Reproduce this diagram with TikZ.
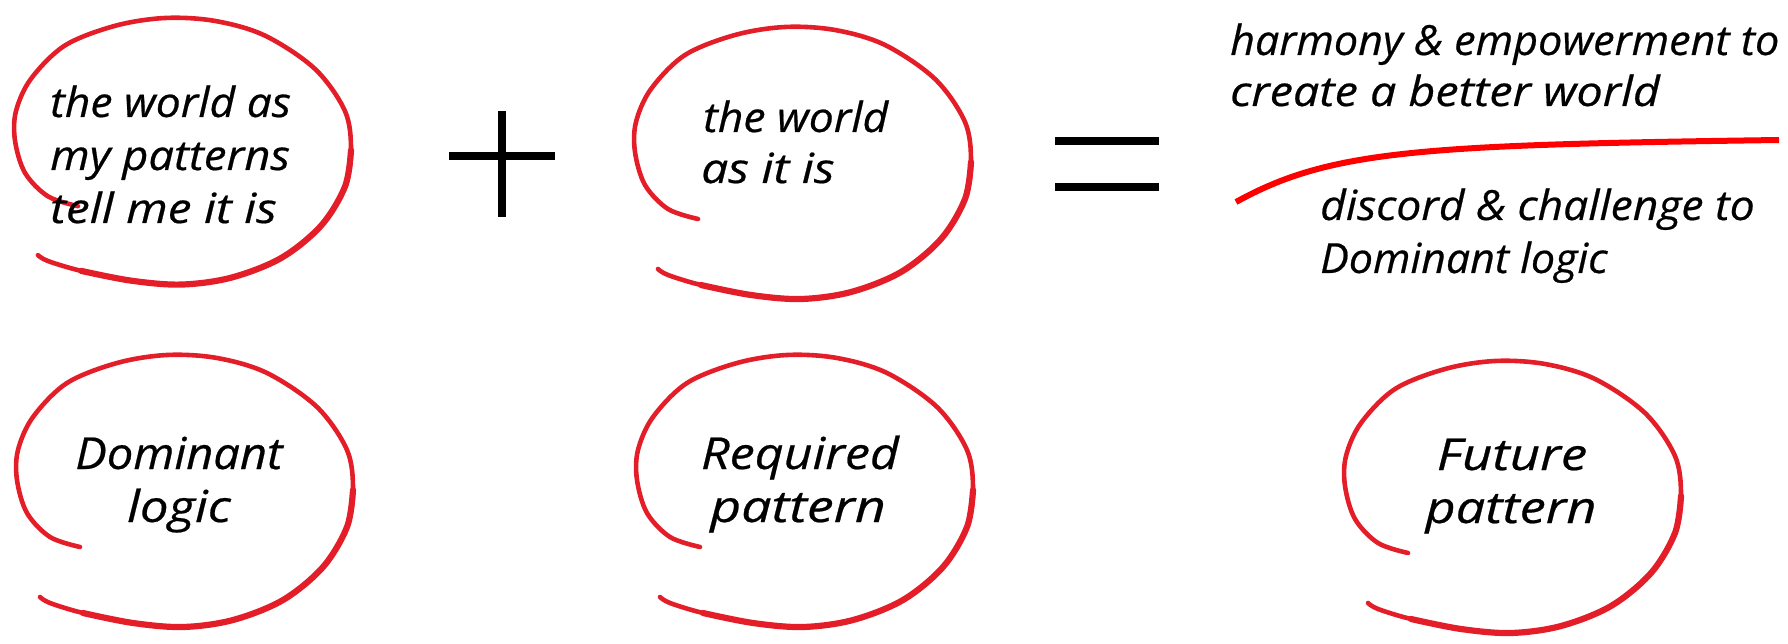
\documentclass[tikz,border=0pt]{standalone}
\usepackage{fontspec}
\setmainfont{Open Sans}[ItalicFeatures={FakeStretch=1.07, FakeBold=0.5}]
\definecolor{penred}{RGB}{228,30,40}
\definecolor{linered}{RGB}{255,0,0}
\newcommand{\hsq}[2]{\scalebox{#1}[1]{#2}}
\tikzset{
  handtxt/.style={inner sep=0pt, anchor=base west, font=\itshape\fontsize{41.5}{50}\selectfont},
  bigtxt/.style={inner sep=0pt, anchor=base, font=\itshape\fontsize{44}{54}\selectfont},
  sym/.style={line width=8pt, black},
  pics/pencilring/.style={code={
    \draw[penred, line width=4.6pt, line cap=round] plot[smooth, tension=0.55] coordinates {
      (23,242) (33,248) (66,258) (116,268) (166,272) (216,265) (266,245) (306,212)
      (330,172) (336,135) (330,95) (300,52) (250,18) (200,3) (150,0) (100,8) (50,28)
      (16,62) (1,95) (0,125) (10,158) (33,182) (63,192)};
    \draw[penred, line width=6.2pt, line cap=round] plot[smooth, tension=0.55] coordinates {
      (66,258) (116,268) (166,272) (216,265) (266,245) (306,212) (330,172) (336,135)};
  }}
}
\begin{document}
\begin{tikzpicture}[x=1pt, y=-1pt]
\useasboundingbox (0,0) rectangle (1788,644);
% circles
\pic (ringA) at (15,18) [yscale=0.98] {pencilring};
\pic (ringB) at (635,27) {pencilring};
\pic (ringC) at (17,355) {pencilring};
\pic (ringD) at (637,355) {pencilring};
\pic (ringE) at (1345,361) {pencilring};
% top-left text
\node[handtxt] (a1) at (50,117) {the world as};
\node[handtxt] (a2) at (50,170) {\hsq{1.02}{my patterns}};
\node[handtxt] (a3) at (50,223) {\hsq{1.075}{tell me it is}};
% top-middle text
\node[handtxt] (b1) at (703,132) {the world};
\node[handtxt] (b2) at (701,183) {\hsq{1.08}{as it is}};
% plus and equals
\coordinate (pl) at (449,156); \coordinate (pr) at (555,156);
\coordinate (pt) at (502,111); \coordinate (pb) at (502,217);
\draw[sym] (pl) -- (pr);
\draw[sym] (pt) -- (pb);
\coordinate (e1l) at (1055,141); \coordinate (e1r) at (1159,141);
\coordinate (e2l) at (1055,187); \coordinate (e2r) at (1159,187);
\draw[sym] (e1l) -- (e1r);
\draw[sym] (e2l) -- (e2r);
% right side
\node[handtxt] (h1) at (1230,55) {\hsq{0.97}{harmony \& empowerment to}};
\node[handtxt] (h2) at (1230,106) {\hsq{1.05}{create a better world}};
\coordinate (cl) at (1236,202); \coordinate (cr) at (1779,140);
\draw[linered, line width=6pt] (cl) .. controls (1330,150) and (1420,145) .. (cr);
\node[handtxt] (d1) at (1320,220) {discord \& challenge to};
\node[handtxt] (d2) at (1320,273) {\hsq{0.966}{Dominant logic}};
% bottom labels
\node[bigtxt] (l1) at (179,469) {Dominant};
\node[bigtxt] (l2) at (179,522) {\hsq{1.08}{logic}};
\node[bigtxt] (l3) at (800,469) {\hsq{1.065}{Required}};
\node[bigtxt] (l4) at (798,522) {\hsq{1.14}{pattern}};
\node[bigtxt] (l5) at (1512,470) {\hsq{1.12}{Future}};
\node[bigtxt] (l6) at (1511,523) {\hsq{1.11}{pattern}};
\end{tikzpicture}
\end{document}
